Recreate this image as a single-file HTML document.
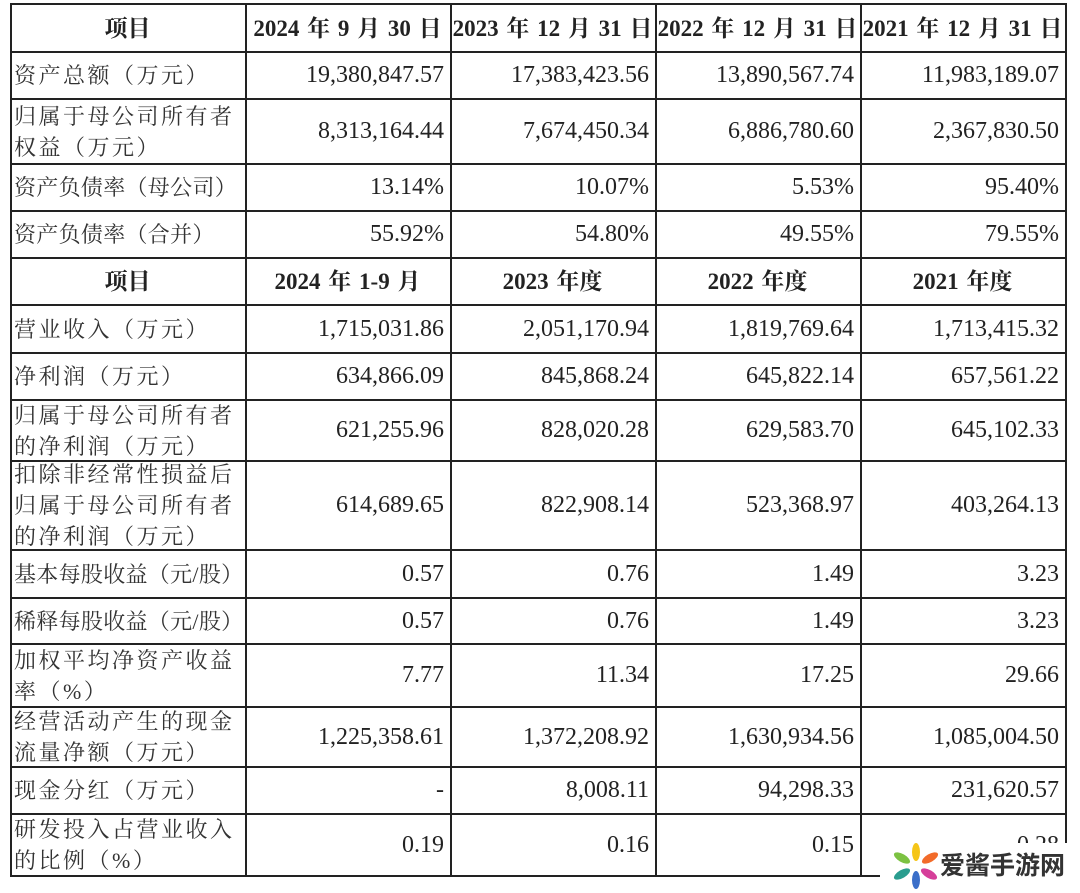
<!DOCTYPE html>
<html><head><meta charset="utf-8"><style>
body{margin:0;width:1080px;height:893px;background:#fff;position:relative;overflow:hidden;font-family:"Liberation Serif","Noto Serif CJK SC",serif;color:#222}
.c{position:absolute;display:flex;align-items:center;box-sizing:border-box;padding:0 6px;font-size:24px;line-height:31px;white-space:nowrap}
.r{justify-content:flex-end}
.l{justify-content:flex-start;color:#333;letter-spacing:2.5px;padding-left:4px;font-size:22px}
.l.t{letter-spacing:0.3px}
.h{justify-content:center;font-weight:bold;font-size:23px;padding:0;word-spacing:2px}
.hl{position:absolute;background:#222;height:2px;left:10px;width:1056px}
.vl{position:absolute;background:#222;width:2px;top:3px;height:873px}
</style></head><body>
<div id="g"></div>
<div style="position:absolute;left:880px;top:843px;width:200px;height:50px;background:#fff"></div>
<svg style="position:absolute;left:893px;top:842px" width="46" height="48" viewBox="0 0 46 48">
<ellipse cx="23" cy="10" rx="4" ry="9" fill="#f5c518"/>
<ellipse cx="37" cy="16" rx="4" ry="9" fill="#f26b2a" transform="rotate(60 37 16)"/>
<ellipse cx="36" cy="32" rx="4" ry="9" fill="#d63f9a" transform="rotate(-60 36 32)"/>
<ellipse cx="23" cy="38" rx="4" ry="9" fill="#3b6fc9"/>
<ellipse cx="9" cy="32" rx="4" ry="9" fill="#2a9d8f" transform="rotate(60 9 32)"/>
<ellipse cx="9" cy="16" rx="4" ry="9" fill="#7cc242" transform="rotate(-60 9 16)"/>
</svg>
<div style="position:absolute;left:940px;top:848px;font-family:'Noto Sans CJK SC',sans-serif;font-weight:bold;font-size:25px;color:#333;line-height:32px">爱酱手游网</div>
<script>
const X=[10,245,450,655,860,1065];
const Y=[3,51,98,163,210,257,304,352,399,460,549,597,643,706,766,813,875];
const rows=[
["h","项目","2024 年 9 月 30 日","2023 年 12 月 31 日","2022 年 12 月 31 日","2021 年 12 月 31 日"],
["d","资产总额（万元）","19,380,847.57","17,383,423.56","13,890,567.74","11,983,189.07"],
["d","归属于母公司所有者<br>权益（万元）","8,313,164.44","7,674,450.34","6,886,780.60","2,367,830.50"],
["t","资产负债率（母公司）","13.14%","10.07%","5.53%","95.40%"],
["t","资产负债率（合并）","55.92%","54.80%","49.55%","79.55%"],
["h","项目","2024 年 1-9 月","2023 年度","2022 年度","2021 年度"],
["d","营业收入（万元）","1,715,031.86","2,051,170.94","1,819,769.64","1,713,415.32"],
["d","净利润（万元）","634,866.09","845,868.24","645,822.14","657,561.22"],
["d","归属于母公司所有者<br>的净利润（万元）","621,255.96","828,020.28","629,583.70","645,102.33"],
["d","扣除非经常性损益后<br>归属于母公司所有者<br>的净利润（万元）","614,689.65","822,908.14","523,368.97","403,264.13"],
["t","基本每股收益（元/股）","0.57","0.76","1.49","3.23"],
["t","稀释每股收益（元/股）","0.57","0.76","1.49","3.23"],
["d","加权平均净资产收益<br>率（%）","7.77","11.34","17.25","29.66"],
["d","经营活动产生的现金<br>流量净额（万元）","1,225,358.61","1,372,208.92","1,630,934.56","1,085,004.50"],
["d","现金分红（万元）","-","8,008.11","94,298.33","231,620.57"],
["d","研发投入占营业收入<br>的比例（%）","0.19","0.16","0.15","0.28"]];
let h="";
rows.forEach((r,i)=>{for(let j=0;j<5;j++){let cls=r[0]=="h"?"h":(j==0?(r[0]=="t"?"l t":"l"):"r");
h+=`<div class="c ${cls}" style="left:${X[j]}px;top:${Y[i]+1}px;width:${X[j+1]-X[j]}px;height:${Y[i+1]-Y[i]}px">${r[j+1]}</div>`;}});
Y.forEach(y=>h+=`<div class="hl" style="top:${y}px"></div>`);
X.forEach(x=>h+=`<div class="vl" style="left:${x}px"></div>`);
document.getElementById("g").innerHTML=h;
</script>
</body></html>
